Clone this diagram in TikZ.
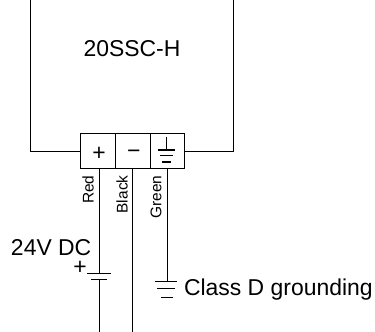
\documentclass[tikz,border=0pt]{standalone}
\usepackage{fontspec}
\setmainfont{Liberation Sans}
\begin{document}
\begin{tikzpicture}[x=0.75pt,y=-0.75pt,line width=0.75pt,
    termbox/.style={draw,minimum width=34.7*0.75pt,minimum height=35*0.75pt,inner sep=0pt,outer sep=0pt},
    wirelabel/.style={rotate=90,font=\fontsize{11.6}{12}\selectfont,inner sep=0pt,anchor=east},
    mainlabel/.style={font=\fontsize{17.2}{18}\selectfont,inner sep=0pt}]
    \useasboundingbox (0,0) rectangle (375,332);
    \node [termbox] (plus) at (98,151) {};
    \node [termbox] (minus) at (132.7,151) {};
    \node [termbox] (earth) at (167.4,151) {};
    \node [mainlabel] (plussign) at (99,154) {+};
    \node [mainlabel] (minussign) at (133.8,154) {−};
    \coordinate (topleft) at (30,0);
    \coordinate (topright) at (233,0);
    \coordinate (bat) at (99,273.5);
    \coordinate (batend) at (99,332);
    \coordinate (blackend) at (132.5,332);
    \coordinate (gnd) at (167,281);
    \draw (topleft) |- (plus.west);
    \draw (topright) |- (earth.east);
    \draw (plus.south -| bat) -- (bat);
    \draw (minus.south -| blackend) -- (blackend);
    \draw (earth.south -| gnd) -- (gnd);
    % battery
    \draw (87,273.5) -- (111,273.5);
    \draw (91,279.5) -- (107,279.5);
    \draw (99,279.5) -- (batend);
    % ground in the terminal
    \draw [line width=1.1pt] (166.5,137) -- (166.5,150);
    \draw [line width=1.1pt] (158,150) -- (175,150);
    \draw [line width=1.1pt] (160,155.5) -- (173,155.5);
    \draw [line width=1.1pt] (162,162) -- (171,162);
    % class D ground
    \draw (155,281) -- (177,281);
    \draw (157,288.5) -- (175,288.5);
    \draw (161,297) -- (173,297);
    \node [mainlabel,anchor=base] (unit) at (132,56) {20SSC-H};
    \node [wirelabel] (red) at (88,175) {Red};
    \node [wirelabel] (black) at (122,175) {Black};
    \node [wirelabel] (green) at (156,175) {Green};
    \node [mainlabel,anchor=base west] (volt) at (10.5,255) {24V DC};
    \node [mainlabel] (batplus) at (80,268) {+};
    \node [mainlabel,anchor=base west] (class) at (183.5,295) {Class D grounding};
\end{tikzpicture}
\end{document}
